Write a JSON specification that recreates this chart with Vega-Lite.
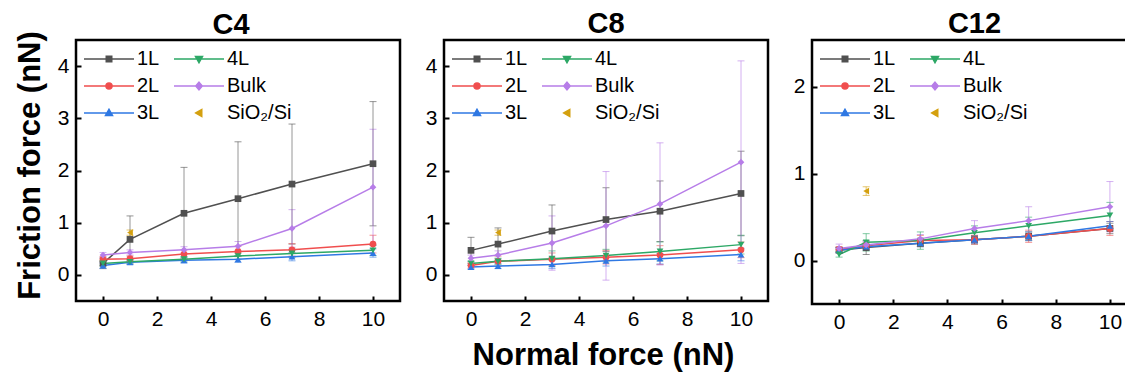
{
  "$schema": "https://vega.github.io/schema/vega-lite/v6.json",
  "autosize": {"type": "pad"},
  "padding": {"left": 12, "top": 8, "right": 0, "bottom": 5},
  "spacing": 44,
  "bounds": "flush",
  "config": {
    "font": "Liberation Sans",
    "view": {"stroke": "black", "strokeWidth": 2.5},
    "axis": {
      "grid": false, "domain": false, "labelFont": "Liberation Sans", "labelFontSize": 21,
      "labelColor": "black", "tickColor": "black", "tickWidth": 2, "tickSize": -5,
      "labelPadding": 12, "titleColor": "black", "titleFont": "Liberation Sans",
      "titleFontSize": 31, "titleFontWeight": "bold"
    },
    "title": {"font": "Liberation Sans", "fontSize": 29, "fontWeight": "bold", "color": "black", "baseline": "alphabetic", "offset": 1, "anchor": "middle"},
    "legend": {
      "orient": "top-left", "offset": 9, "padding": 0, "columns": 2, "columnPadding": 11,
      "rowPadding": 7, "symbolSize": 100, "symbolOffset": 14, "labelOffset": 18,
      "labelFontSize": 20, "labelFont": "Liberation Sans", "labelColor": "black", "symbolStrokeWidth": 1.5
    }
  },
  "resolve": {"legend": {"color": "independent"}},
  "datasets": {
    "d": [
      {"p": "C4", "s": "1L", "x": 0, "y": 0.22, "e": 0.1},
      {"p": "C4", "s": "1L", "x": 1, "y": 0.68, "e": 0.45},
      {"p": "C4", "s": "1L", "x": 3, "y": 1.18, "e": 0.88},
      {"p": "C4", "s": "1L", "x": 5, "y": 1.46, "e": 1.09},
      {"p": "C4", "s": "1L", "x": 7, "y": 1.74, "e": 1.15},
      {"p": "C4", "s": "1L", "x": 10, "y": 2.13, "e": 1.19},
      {"p": "C4", "s": "2L", "x": 0, "y": 0.3, "e": 0.05},
      {"p": "C4", "s": "2L", "x": 1, "y": 0.31, "e": 0.05},
      {"p": "C4", "s": "2L", "x": 3, "y": 0.4, "e": 0.08},
      {"p": "C4", "s": "2L", "x": 5, "y": 0.45, "e": 0.1},
      {"p": "C4", "s": "2L", "x": 7, "y": 0.48, "e": 0.12},
      {"p": "C4", "s": "2L", "x": 10, "y": 0.59, "e": 0.17},
      {"p": "C4", "s": "3L", "x": 0, "y": 0.18, "e": 0.05},
      {"p": "C4", "s": "3L", "x": 1, "y": 0.24, "e": 0.04},
      {"p": "C4", "s": "3L", "x": 3, "y": 0.28, "e": 0.05},
      {"p": "C4", "s": "3L", "x": 5, "y": 0.3, "e": 0.06},
      {"p": "C4", "s": "3L", "x": 7, "y": 0.35, "e": 0.08},
      {"p": "C4", "s": "3L", "x": 10, "y": 0.42, "e": 0.08},
      {"p": "C4", "s": "4L", "x": 0, "y": 0.22, "e": 0.04},
      {"p": "C4", "s": "4L", "x": 1, "y": 0.25, "e": 0.04},
      {"p": "C4", "s": "4L", "x": 3, "y": 0.3, "e": 0.05},
      {"p": "C4", "s": "4L", "x": 5, "y": 0.36, "e": 0.06},
      {"p": "C4", "s": "4L", "x": 7, "y": 0.41, "e": 0.08},
      {"p": "C4", "s": "4L", "x": 10, "y": 0.47, "e": 0.1},
      {"p": "C4", "s": "Bulk", "x": 0, "y": 0.38, "e": 0.05},
      {"p": "C4", "s": "Bulk", "x": 1, "y": 0.43, "e": 0.05},
      {"p": "C4", "s": "Bulk", "x": 3, "y": 0.48, "e": 0.06},
      {"p": "C4", "s": "Bulk", "x": 5, "y": 0.55, "e": 0.09},
      {"p": "C4", "s": "Bulk", "x": 7, "y": 0.89, "e": 0.36},
      {"p": "C4", "s": "Bulk", "x": 10, "y": 1.68, "e": 1.11},
      {"p": "C4", "s": "SiO₂/Si", "x": 1, "y": 0.81, "e": 0.05},
      {"p": "C8", "s": "1L", "x": 0, "y": 0.47, "e": 0.25},
      {"p": "C8", "s": "1L", "x": 1, "y": 0.59, "e": 0.31},
      {"p": "C8", "s": "1L", "x": 3, "y": 0.84, "e": 0.5},
      {"p": "C8", "s": "1L", "x": 5, "y": 1.06, "e": 0.61},
      {"p": "C8", "s": "1L", "x": 7, "y": 1.22, "e": 0.58},
      {"p": "C8", "s": "1L", "x": 10, "y": 1.56, "e": 0.81},
      {"p": "C8", "s": "2L", "x": 0, "y": 0.18, "e": 0.05},
      {"p": "C8", "s": "2L", "x": 1, "y": 0.26, "e": 0.1},
      {"p": "C8", "s": "2L", "x": 3, "y": 0.3, "e": 0.12},
      {"p": "C8", "s": "2L", "x": 5, "y": 0.34, "e": 0.13},
      {"p": "C8", "s": "2L", "x": 7, "y": 0.38, "e": 0.18},
      {"p": "C8", "s": "2L", "x": 10, "y": 0.48, "e": 0.15},
      {"p": "C8", "s": "3L", "x": 0, "y": 0.15, "e": 0.04},
      {"p": "C8", "s": "3L", "x": 1, "y": 0.17, "e": 0.05},
      {"p": "C8", "s": "3L", "x": 3, "y": 0.2, "e": 0.08},
      {"p": "C8", "s": "3L", "x": 5, "y": 0.27, "e": 0.1},
      {"p": "C8", "s": "3L", "x": 7, "y": 0.31, "e": 0.1},
      {"p": "C8", "s": "3L", "x": 10, "y": 0.39, "e": 0.12},
      {"p": "C8", "s": "4L", "x": 0, "y": 0.22, "e": 0.04},
      {"p": "C8", "s": "4L", "x": 1, "y": 0.26, "e": 0.06},
      {"p": "C8", "s": "4L", "x": 3, "y": 0.31, "e": 0.15},
      {"p": "C8", "s": "4L", "x": 5, "y": 0.37, "e": 0.12},
      {"p": "C8", "s": "4L", "x": 7, "y": 0.45, "e": 0.18},
      {"p": "C8", "s": "4L", "x": 10, "y": 0.58, "e": 0.18},
      {"p": "C8", "s": "Bulk", "x": 0, "y": 0.32, "e": 0.06},
      {"p": "C8", "s": "Bulk", "x": 1, "y": 0.38, "e": 0.08},
      {"p": "C8", "s": "Bulk", "x": 3, "y": 0.61, "e": 0.52},
      {"p": "C8", "s": "Bulk", "x": 5, "y": 0.94, "e": 1.04},
      {"p": "C8", "s": "Bulk", "x": 7, "y": 1.36, "e": 1.17},
      {"p": "C8", "s": "Bulk", "x": 10, "y": 2.16, "e": 1.94},
      {"p": "C8", "s": "SiO₂/Si", "x": 1, "y": 0.81, "e": 0.05},
      {"p": "C12", "s": "1L", "x": 0, "y": 0.12, "e": 0.03},
      {"p": "C12", "s": "1L", "x": 1, "y": 0.15, "e": 0.08},
      {"p": "C12", "s": "1L", "x": 3, "y": 0.2, "e": 0.04},
      {"p": "C12", "s": "1L", "x": 5, "y": 0.24, "e": 0.05},
      {"p": "C12", "s": "1L", "x": 7, "y": 0.28, "e": 0.05},
      {"p": "C12", "s": "1L", "x": 10, "y": 0.37, "e": 0.06},
      {"p": "C12", "s": "2L", "x": 0, "y": 0.13, "e": 0.03},
      {"p": "C12", "s": "2L", "x": 1, "y": 0.17, "e": 0.04},
      {"p": "C12", "s": "2L", "x": 3, "y": 0.23, "e": 0.06},
      {"p": "C12", "s": "2L", "x": 5, "y": 0.24, "e": 0.05},
      {"p": "C12", "s": "2L", "x": 7, "y": 0.28, "e": 0.07},
      {"p": "C12", "s": "2L", "x": 10, "y": 0.37, "e": 0.08},
      {"p": "C12", "s": "3L", "x": 0, "y": 0.12, "e": 0.03},
      {"p": "C12", "s": "3L", "x": 1, "y": 0.16, "e": 0.04},
      {"p": "C12", "s": "3L", "x": 3, "y": 0.2, "e": 0.04},
      {"p": "C12", "s": "3L", "x": 5, "y": 0.24, "e": 0.04},
      {"p": "C12", "s": "3L", "x": 7, "y": 0.28, "e": 0.05},
      {"p": "C12", "s": "3L", "x": 10, "y": 0.4, "e": 0.05},
      {"p": "C12", "s": "4L", "x": 0, "y": 0.07, "e": 0.03},
      {"p": "C12", "s": "4L", "x": 1, "y": 0.21, "e": 0.1},
      {"p": "C12", "s": "4L", "x": 3, "y": 0.23, "e": 0.1},
      {"p": "C12", "s": "4L", "x": 5, "y": 0.32, "e": 0.08},
      {"p": "C12", "s": "4L", "x": 7, "y": 0.4, "e": 0.1},
      {"p": "C12", "s": "4L", "x": 10, "y": 0.52, "e": 0.15},
      {"p": "C12", "s": "Bulk", "x": 0, "y": 0.14, "e": 0.05},
      {"p": "C12", "s": "Bulk", "x": 1, "y": 0.18, "e": 0.04},
      {"p": "C12", "s": "Bulk", "x": 3, "y": 0.25, "e": 0.05},
      {"p": "C12", "s": "Bulk", "x": 5, "y": 0.37, "e": 0.09},
      {"p": "C12", "s": "Bulk", "x": 7, "y": 0.46, "e": 0.16},
      {"p": "C12", "s": "Bulk", "x": 10, "y": 0.62, "e": 0.29},
      {"p": "C12", "s": "SiO₂/Si", "x": 1, "y": 0.8, "e": 0.05}
    ]
  },
  "hconcat": [
    {
      "title": {"text": "C4", "dx": -7, "offset": -9},
      "width": 324, "height": 261,
      "data": {"name": "d"},
      "transform": [{"filter": "datum.p === 'C4'"}],
      "encoding": {
        "x": {"field": "x", "type": "quantitative", "scale": {"domain": [-1, 11], "nice": false, "zero": false}, "axis": {"values": [0, 2, 4, 6, 8, 10], "title": null}},
        "y": {"field": "y", "type": "quantitative", "scale": {"domain": [-0.5, 4.5], "nice": false, "zero": false}, "axis": {"values": [0, 1, 2, 3, 4], "title": "Friction force (nN)", "titleX": -46, "titleY": 125, "titleBaseline": "middle", "titleAlign": "center", "titleAngle": -90}},
        "color": {"field": "s", "type": "nominal",
          "scale": {"domain": ["1L", "2L", "3L", "4L", "Bulk", "SiO₂/Si"], "range": ["#505050", "#f04e4e", "#2f78e3", "#2da866", "#b77de8", "#d4a00f"]},
          "legend": {"title": null, "encode": {"symbols": {"update": {
            "shape": {"signal": "datum.value === '1L' ? 'M-5,0H5M-0.55,-0.55H0.55V0.55H-0.55Z' : datum.value === '2L' ? 'M-5,0H5M-0.6,0A0.6,0.6,0,1,0,0.6,0A0.6,0.6,0,1,0,-0.6,0Z' : datum.value === '3L' ? 'M-5,0H5M0,-0.75L0.7,0.5H-0.7Z' : datum.value === '4L' ? 'M-5,0H5M0,0.75L0.7,-0.5H-0.7Z' : datum.value === 'Bulk' ? 'M-5,0H5M0,-0.75L0.65,0L0,0.75L-0.65,0Z' : 'M-0.65,0L0.55,-0.7V0.7Z'"},
            "fill": {"scale": "color", "field": "value"},
            "stroke": {"scale": "color", "field": "value"},
            "strokeWidth": {"value": 1.5},
            "opacity": {"value": 1},
            "size": {"value": 100}
          }}}}
        }
      },
      "layer": [
        {"mark": {"type": "errorbar", "ticks": {"size": 7, "opacity": 0.6}, "rule": {"opacity": 0.6}}, "encoding": {"yError": {"field": "e"}}},
        {"transform": [{"filter": "datum.s !== 'SiO₂/Si'"}], "mark": {"type": "line", "strokeWidth": 1.5}},
        {"mark": {"type": "point", "filled": true, "size": 45, "opacity": 1}, "encoding": {"shape": {"field": "s", "type": "nominal", "scale": {"domain": ["1L", "2L", "3L", "4L", "Bulk", "SiO₂/Si"], "range": ["square", "circle", "triangle-up", "triangle-down", "diamond", "triangle-left"]}, "legend": null}}}
      ]
    },
    {
      "title": {"text": "C8"},
      "width": 324, "height": 261,
      "data": {"name": "d"},
      "transform": [{"filter": "datum.p === 'C8'"}],
      "encoding": {
        "x": {"field": "x", "type": "quantitative", "scale": {"domain": [-1, 11], "nice": false, "zero": false}, "axis": {"values": [0, 2, 4, 6, 8, 10], "title": "Normal force (nN)", "titleX": 159, "titleY": 63, "titleBaseline": "alphabetic", "titleAlign": "center"}},
        "y": {"field": "y", "type": "quantitative", "scale": {"domain": [-0.5, 4.5], "nice": false, "zero": false}, "axis": {"values": [0, 1, 2, 3, 4], "title": null}},
        "color": {"field": "s", "type": "nominal",
          "scale": {"domain": ["1L", "2L", "3L", "4L", "Bulk", "SiO₂/Si"], "range": ["#505050", "#f04e4e", "#2f78e3", "#2da866", "#b77de8", "#d4a00f"]},
          "legend": {"title": null, "encode": {"symbols": {"update": {
            "shape": {"signal": "datum.value === '1L' ? 'M-5,0H5M-0.55,-0.55H0.55V0.55H-0.55Z' : datum.value === '2L' ? 'M-5,0H5M-0.6,0A0.6,0.6,0,1,0,0.6,0A0.6,0.6,0,1,0,-0.6,0Z' : datum.value === '3L' ? 'M-5,0H5M0,-0.75L0.7,0.5H-0.7Z' : datum.value === '4L' ? 'M-5,0H5M0,0.75L0.7,-0.5H-0.7Z' : datum.value === 'Bulk' ? 'M-5,0H5M0,-0.75L0.65,0L0,0.75L-0.65,0Z' : 'M-0.65,0L0.55,-0.7V0.7Z'"},
            "fill": {"scale": "color", "field": "value"},
            "stroke": {"scale": "color", "field": "value"},
            "strokeWidth": {"value": 1.5},
            "opacity": {"value": 1},
            "size": {"value": 100}
          }}}}
        }
      },
      "layer": [
        {"mark": {"type": "errorbar", "ticks": {"size": 7, "opacity": 0.6}, "rule": {"opacity": 0.6}}, "encoding": {"yError": {"field": "e"}}},
        {"transform": [{"filter": "datum.s !== 'SiO₂/Si'"}], "mark": {"type": "line", "strokeWidth": 1.5}},
        {"mark": {"type": "point", "filled": true, "size": 45, "opacity": 1}, "encoding": {"shape": {"field": "s", "type": "nominal", "scale": {"domain": ["1L", "2L", "3L", "4L", "Bulk", "SiO₂/Si"], "range": ["square", "circle", "triangle-up", "triangle-down", "diamond", "triangle-left"]}, "legend": null}}}
      ]
    },
    {
      "title": {"text": "C12"},
      "width": 325, "height": 264,
      "data": {"name": "d"},
      "transform": [{"filter": "datum.p === 'C12'"}],
      "encoding": {
        "x": {"field": "x", "type": "quantitative", "scale": {"domain": [-1, 11], "nice": false, "zero": false}, "axis": {"values": [0, 2, 4, 6, 8, 10], "title": null}},
        "y": {"field": "y", "type": "quantitative", "scale": {"domain": [-0.5, 2.54], "nice": false, "zero": false}, "axis": {"values": [0, 1, 2], "title": null}},
        "color": {"field": "s", "type": "nominal",
          "scale": {"domain": ["1L", "2L", "3L", "4L", "Bulk", "SiO₂/Si"], "range": ["#505050", "#f04e4e", "#2f78e3", "#2da866", "#b77de8", "#d4a00f"]},
          "legend": {"title": null, "encode": {"symbols": {"update": {
            "shape": {"signal": "datum.value === '1L' ? 'M-5,0H5M-0.55,-0.55H0.55V0.55H-0.55Z' : datum.value === '2L' ? 'M-5,0H5M-0.6,0A0.6,0.6,0,1,0,0.6,0A0.6,0.6,0,1,0,-0.6,0Z' : datum.value === '3L' ? 'M-5,0H5M0,-0.75L0.7,0.5H-0.7Z' : datum.value === '4L' ? 'M-5,0H5M0,0.75L0.7,-0.5H-0.7Z' : datum.value === 'Bulk' ? 'M-5,0H5M0,-0.75L0.65,0L0,0.75L-0.65,0Z' : 'M-0.65,0L0.55,-0.7V0.7Z'"},
            "fill": {"scale": "color", "field": "value"},
            "stroke": {"scale": "color", "field": "value"},
            "strokeWidth": {"value": 1.5},
            "opacity": {"value": 1},
            "size": {"value": 100}
          }}}}
        }
      },
      "layer": [
        {"mark": {"type": "errorbar", "ticks": {"size": 7, "opacity": 0.6}, "rule": {"opacity": 0.6}}, "encoding": {"yError": {"field": "e"}}},
        {"transform": [{"filter": "datum.s !== 'SiO₂/Si'"}], "mark": {"type": "line", "strokeWidth": 1.5}},
        {"mark": {"type": "point", "filled": true, "size": 45, "opacity": 1}, "encoding": {"shape": {"field": "s", "type": "nominal", "scale": {"domain": ["1L", "2L", "3L", "4L", "Bulk", "SiO₂/Si"], "range": ["square", "circle", "triangle-up", "triangle-down", "diamond", "triangle-left"]}, "legend": null}}}
      ]
    }
  ]
}
